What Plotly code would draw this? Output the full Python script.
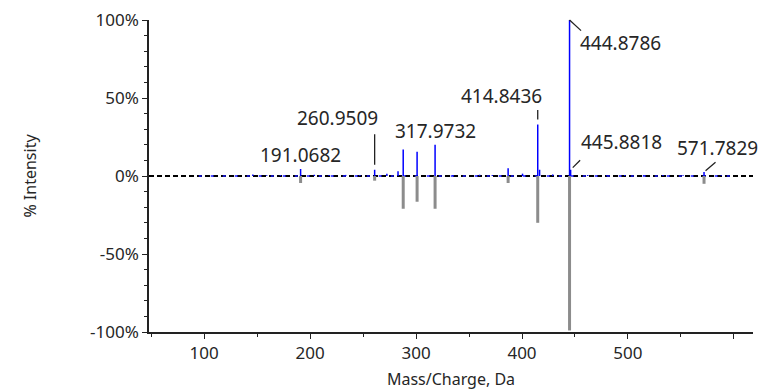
import plotly.graph_objects as go

# ---- data ----
# measured spectrum (blue, upward), m/z and % intensity
pos_mz = [146.0, 159.0, 172.0, 191.0682, 204.0, 218.0, 233.6, 247.0, 260.9509, 272.5,
          283.0, 287.9, 301.0, 317.9732, 335.0, 360.0, 372.0, 386.9, 400.5, 414.8436,
          416.6, 429.0, 444.8786, 445.8818, 462.0, 480.0, 497.0, 515.0, 533.0, 552.0,
          571.7829, 588.0]
pos_int = [1.0, 0.5, 0.6, 4.5, 0.8, 0.6, 0.7, 0.6, 4.0, 1.5,
           3.0, 17.0, 15.5, 20.0, 0.6, 0.8, 0.6, 5.0, 1.5, 33.0,
           4.0, 1.0, 100.0, 4.0, 0.6, 0.5, 0.7, 0.5, 0.6, 0.5,
           2.5, 0.5]

# library spectrum (grey, downward)
neg_mz = [191.0682, 260.9509, 287.9, 301.0, 317.9732, 386.9, 414.8436, 444.8786, 571.7829]
neg_int = [-4.5, -3.0, -21.0, -16.5, -21.0, -4.5, -30.0, -99.0, -5.0]

# labelled peaks
label_mz = [191.0682, 260.9509, 317.9732, 414.8436, 444.8786, 445.8818, 571.7829]
label_text = ["191.0682", "260.9509", "317.9732", "414.8436", "444.8786", "445.8818", "571.7829"]

blue_baseline = [95.0, 600.0]

x_ticks = [100, 200, 300, 400, 500, 600]
x_ticktext = ["100", "200", "300", "400", "500", ""]
y_ticks = [-100, -50, 0, 50, 100]
y_ticktext = ["-100%", "-50%", "0%", "50%", "100%"]

# ---- build stick traces ----
def sticks(mz, inten):
    xs, ys = [], []
    for m, v in zip(mz, inten):
        xs += [m, m, None]
        ys += [0, v, None]
    return xs, ys

fig = go.Figure()

fig.add_hline(y=0, line=dict(color="black", width=1.8, dash="5px,3px"), layer="below")

fig.add_trace(go.Scatter(x=blue_baseline, y=[0, 0], mode="lines",
                         line=dict(color="#1a1aff", width=1.6, dash="3px,9px"),
                         hoverinfo="skip", showlegend=False))

nx, ny = sticks(neg_mz, neg_int)
fig.add_trace(go.Scatter(x=nx, y=ny, mode="lines",
                         line=dict(color="#8c8c8c", width=3),
                         hoverinfo="skip", showlegend=False))

px_, py_ = sticks(pos_mz, pos_int)
fig.add_trace(go.Scatter(x=px_, y=py_, mode="lines",
                         line=dict(color="#0000ff", width=1.5),
                         hoverinfo="skip", showlegend=False))

peak_h = dict(zip(pos_mz, pos_int))
font_lbl = dict(family="Noto Sans, Open Sans, sans-serif", size=19, color="#262626")

# leader lines (ax, ay in px relative to peak top; standoff in px)
leaders = {
    260.9509: (0, -37, 5),
    414.8436: (0, -16, 5),
    444.8786: (13, 12, 0),
    445.8818: (11, -11, 3),
    571.7829: (13, -11, 2),
}
# text placement relative to peak top (xshift, yshift in px)
text_pos = {
    191.0682: (0, 14),
    260.9509: (-37, 52),
    317.9732: (0, 14),
    414.8436: (-36, 29),
    444.8786: (51, -23),
    445.8818: (51, 28),
    571.7829: (13, 24),
}

for m, t in zip(label_mz, label_text):
    h = peak_h[m]
    if m in leaders:
        ax, ay, so = leaders[m]
        fig.add_annotation(x=m, y=h, text="", showarrow=True, arrowhead=0,
                           arrowwidth=1.3, arrowcolor="#222222",
                           ax=ax, ay=ay, standoff=so)
    xs, ys = text_pos[m]
    fig.add_annotation(x=m, y=h, text=t, showarrow=False, font=font_lbl,
                       xshift=xs, yshift=ys, xanchor="center", yanchor="middle")

tick_font = dict(family="Noto Sans, Open Sans, sans-serif", size=17, color="#262626")
title_font = dict(family="Noto Sans, Open Sans, sans-serif", size=16, color="#262626")

fig.update_layout(
    width=760, height=390,
    margin=dict(l=149, r=7, t=20, b=58),
    paper_bgcolor="white", plot_bgcolor="white",
    showlegend=False,
    xaxis=dict(range=[48, 618], tickvals=x_ticks, ticktext=x_ticktext, automargin=False,
               showgrid=False, zeroline=False, showline=True, linecolor="#222222",
               linewidth=1.5, ticks="outside", ticklen=5, tickwidth=1.3, tickcolor="#222222",
               minor=dict(dtick=50, tick0=0, ticks="outside", ticklen=3, tickcolor="#222222", tickwidth=1.2),
               tickfont=tick_font,
               title=dict(text="Mass/Charge, Da", font=title_font, standoff=13)),
    yaxis=dict(range=[-100, 100], tickvals=y_ticks, ticktext=y_ticktext, automargin=False,
               showgrid=False, zeroline=False, showline=True, linecolor="#222222",
               linewidth=1.5, ticks="outside", ticklen=5, tickwidth=1.3, tickcolor="#222222",
               minor=dict(dtick=10, tick0=0, ticks="outside", ticklen=3, tickcolor="#222222", tickwidth=1.2),
               tickfont=tick_font,
               title=dict(text="% Intensity", font=title_font, standoff=49)),
)

fig.write_html("out.html", config={"displayModeBar": False},
               post_script="document.body.style.margin='0';document.body.style.overflow='hidden';")
